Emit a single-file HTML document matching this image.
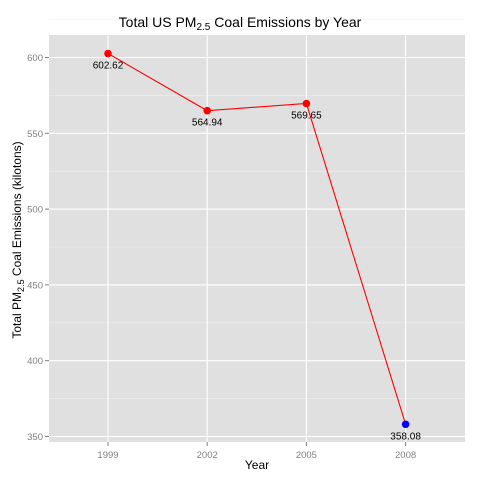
<!DOCTYPE html>
<html><head><style>
body{margin:0;background:#fff;}
svg{font-family:"Liberation Sans",sans-serif;}
</style></head><body>
<svg width="480" height="480">
<rect x="49" y="35" width="416" height="407" fill="#e0e0e0"/>
<g id="grid"></g>
<g id="axes"></g>
<g id="series"></g>
<text x="240" y="27" text-anchor="middle" font-size="14" fill="#000">Total US PM<tspan font-size="10" dy="3">2.5</tspan><tspan dy="-3"> Coal Emissions by Year</tspan></text>
<text x="257" y="469" text-anchor="middle" font-size="12" fill="#000">Year</text>
<text transform="translate(21,240) rotate(-90)" text-anchor="middle" font-size="12" fill="#000">Total PM<tspan font-size="9" dy="3">2.5</tspan><tspan dy="-3"> Coal Emissions (kilotons)</tspan></text>
</svg>
<script>
const years=["1999","2002","2005","2008"];
const emissions=[602.62,564.94,569.65,358.08];
const yTicks=[350,400,450,500,550,600];
const ns="http://www.w3.org/2000/svg";
function X(i){return 108+i*99.2;}
function Y(v){return 57.5+(600-v)*(379/250);}
function mk(tag,attrs,parent,txt){const e=document.createElementNS(ns,tag);for(const k in attrs)e.setAttribute(k,attrs[k]);if(txt!==undefined)e.textContent=txt;document.getElementById(parent).appendChild(e);return e;}
for(let k=0;k<yTicks.length;k++){const v=yTicks[k];
 const mn=mk('line',{x1:49,x2:465,y1:Y(v+25),y2:Y(v+25),stroke:'#f0f0f0','stroke-width':0.6},'grid');
 
 const g=mk('line',{x1:49,x2:465,y1:Y(v),y2:Y(v),stroke:'#fff','stroke-width':1.1},'grid');
 
 const t=mk('line',{x1:45,x2:49,y1:Y(v),y2:Y(v),stroke:'#7f7f7f'},'axes');
 
 const l=mk('text',{x:43,y:Y(v)+3.5,'text-anchor':'end','font-size':9.5,fill:'#7f7f7f'},'axes',String(v));
 
}
for(let i=0;i<years.length;i++){
 const g=mk('line',{x1:X(i),x2:X(i),y1:35,y2:442,stroke:'#fff','stroke-width':1.1},'grid');
 
 const t=mk('line',{x1:X(i),x2:X(i),y1:442,y2:446,stroke:'#7f7f7f'},'axes');
 
 const l=mk('text',{x:X(i),y:458,'text-anchor':'middle','font-size':9.5,fill:'#7f7f7f'},'axes',years[i]);
 
}
const pts=emissions.map((v,i)=>X(i)+','+Y(v)).join(' ');
const line=mk('polyline',{points:pts,fill:'none',stroke:'#ff0000','stroke-width':1.1},'series');

const minV=Math.min(...emissions);
for(let i=0;i<emissions.length;i++){
 const c=mk('circle',{cx:X(i),cy:Y(emissions[i]),r:3.8,fill:emissions[i]===minV?'#0000ff':'#ff0000'},'series');
 
 const l=mk('text',{x:X(i),y:Y(emissions[i])+15,'text-anchor':'middle','font-size':10,fill:'#000'},'series',emissions[i].toFixed(2));
 
}
</script>
</body></html>
